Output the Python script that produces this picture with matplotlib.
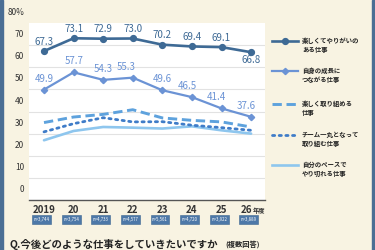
import numpy as np
import matplotlib
matplotlib.use('Agg')
import matplotlib.pyplot as plt
from matplotlib.lines import Line2D
from matplotlib.patches import Rectangle
from matplotlib.transforms import ScaledTranslation, blended_transform_factory

plt.rcParams['font.family'] = ['Noto Sans CJK JP', 'DejaVu Sans']

# data
years = ['2019', '20', '21', '22', '23', '24', '25', '26']
n_labels = ['n=3,744', 'n=3,754', 'n=4,733', 'n=4,577', 'n=5,561', 'n=4,720', 'n=3,922', 'n=3,889']
fun_rewarding = [67.3, 73.1, 72.9, 73.0, 70.2, 69.4, 69.1, 66.8]
growth = [49.9, 57.7, 54.3, 55.3, 49.6, 46.5, 41.4, 37.6]
fun_engaging = [35.0, 37.5, 38.7, 40.8, 37.1, 36.0, 35.3, 33.0]
team = [30.8, 34.5, 37.2, 35.3, 35.4, 33.8, 32.7, 31.5]
own_pace = [27.0, 31.2, 33.0, 32.7, 32.3, 33.3, 31.5, 30.0]
names = ['楽しくてやりがいの\nある仕事', '自身の成長に\nつながる仕事', '楽しく取り組める\n仕事',
         'チーム一丸となって\n取り組む仕事', '自分のペースで\nやり切れる仕事']

bg = '#f8f3e2'
c1 = '#3e6a95'
c2 = '#6b93d5'
c3 = '#5ea2dd'
c4 = '#3f7cc8'
c5 = '#8ec6ee'

W, H = 375, 250
fig = plt.figure(figsize=(3.75, 2.5), dpi=100, facecolor=bg)
ax = fig.add_axes([29/W, 50/H, 236/W, 177/H])
ax.set_facecolor('white')
x = np.arange(len(years))
ax.set_xlim(-0.507, 7.47)
ax.set_ylim(0, 80)

for s in ['top', 'right', 'left']:
    ax.spines[s].set_visible(False)
ax.spines['bottom'].set_color('#555555')
ax.spines['bottom'].set_linewidth(1.0)
ax.set_yticks(range(10, 80, 10))
ax.grid(axis='y', color='#e2e2e2', linewidth=0.8)
ax.set_axisbelow(True)
ax.tick_params(left=False, bottom=False, labelleft=False, labelbottom=False)

# y labels sit just above the grid lines
ylab = blended_transform_factory(ax.transAxes, ax.transData)
up = ScaledTranslation(0, 10.5/100, fig.dpi_scale_trans)
for v in range(0, 90, 10):
    t = '80%' if v == 80 else str(v)
    ax.text(-5/236, v, t, transform=ylab + up, ha='right', va='center',
            fontsize=6, color='#333333', clip_on=False)

# x labels and n boxes
xlab = blended_transform_factory(ax.transData, ax.transAxes)
for i, yr in enumerate(years):
    if i == len(years) - 1:
        ax.text(i + 0.05, -10/177, yr, transform=xlab, ha='right', va='center',
                fontsize=7, fontweight='bold', color='#333333')
        ax.text(i + 0.05, -10/177, '年度', transform=xlab, ha='left', va='center',
                fontsize=4.5, fontweight='bold', color='#333333')
    else:
        ax.text(i, -10/177, yr, transform=xlab, ha='center', va='center',
                fontsize=7, fontweight='bold', color='#333333')
    ax.text(i - 0.08, -19.5/177, n_labels[i], transform=xlab, ha='center', va='center',
            fontsize=3.1, color='white',
            bbox=dict(boxstyle='square,pad=0.35', fc='#4d78a8', ec='#3d6690', lw=0.4))

# lines
ax.plot(x, own_pace, color=c5, lw=1.9, solid_capstyle='round', clip_on=False)
ax.plot(x, team, color=c4, lw=2.0, linestyle=(0, (0.8, 1.6)), dash_capstyle='round', clip_on=False)
ax.plot(x, fun_engaging, color=c3, lw=2.1, linestyle=(0, (3.2, 1.6)), clip_on=False)
ax.plot(x, growth, color=c2, lw=1.6, marker='D', markersize=3.2, clip_on=False)
ax.plot(x, fun_rewarding, color=c1, lw=1.9, marker='o', markersize=4.2, clip_on=False)

for i, v in enumerate(fun_rewarding):
    dy = -8 if i == len(x) - 1 else 9.5
    ax.annotate(f'{v:.1f}', (i, v), xytext=(0, dy * 0.72), textcoords='offset points',
                ha='center', va='center', fontsize=7, color=c1)
shift2 = [0, 1, 0, -7, 0, -5, -5, -5]
for i, v in enumerate(growth):
    ax.annotate(f'{v:.1f}', (i, v), xytext=(shift2[i] * 0.72, 11 * 0.72), textcoords='offset points',
                ha='center', va='center', fontsize=7, color=c2)

# legend drawn by hand so the sample lines sit beside the first text line
styles = [dict(color=c1, lw=1.9, marker='o', markersize=4.2, markevery=[1]),
          dict(color=c2, lw=1.6, marker='D', markersize=3.2, markevery=[1]),
          dict(color=c3, lw=2.1, linestyle=(0, (3.2, 1.6))),
          dict(color=c4, lw=2.0, linestyle=(0, (0.8, 1.6)), dash_capstyle='round'),
          dict(color=c5, lw=1.9)]
leg_y = [41, 71, 104, 135, 165]
for name, st, yy in zip(names, styles, leg_y):
    fy = 1 - yy / H
    fig.add_artist(Line2D([272/W, 285/W, 298/W], [fy, fy, fy], transform=fig.transFigure, **st))
    l1, l2 = name.split('\n')
    fig.text(302/W, fy, l1, ha='left', va='center', fontsize=4.6, fontweight='bold', color='#222222')
    fig.text(302/W, 1 - (yy + 8.5) / H, l2, ha='left', va='center', fontsize=4.6,
             fontweight='bold', color='#222222')

# question at the bottom
fig.text(10/W, 1 - 244.5/H, 'Q.今後どのような仕事をしていきたいですか', ha='left', va='center',
         fontsize=7.5, fontweight='bold', color='#222222')
fig.text(225/W, 1 - 244.5/H, '(複数回答)', ha='left', va='center',
         fontsize=5.2, fontweight='bold', color='#222222')

# side frame bars
fig.add_artist(Rectangle((0, 0), 3/W, 1, transform=fig.transFigure, color='#4b6e94', zorder=5))
fig.add_artist(Rectangle((372/W, 0), 3/W, 1, transform=fig.transFigure, color='#4b6e94', zorder=5))

fig.savefig('out.png', dpi=100, facecolor=bg)
